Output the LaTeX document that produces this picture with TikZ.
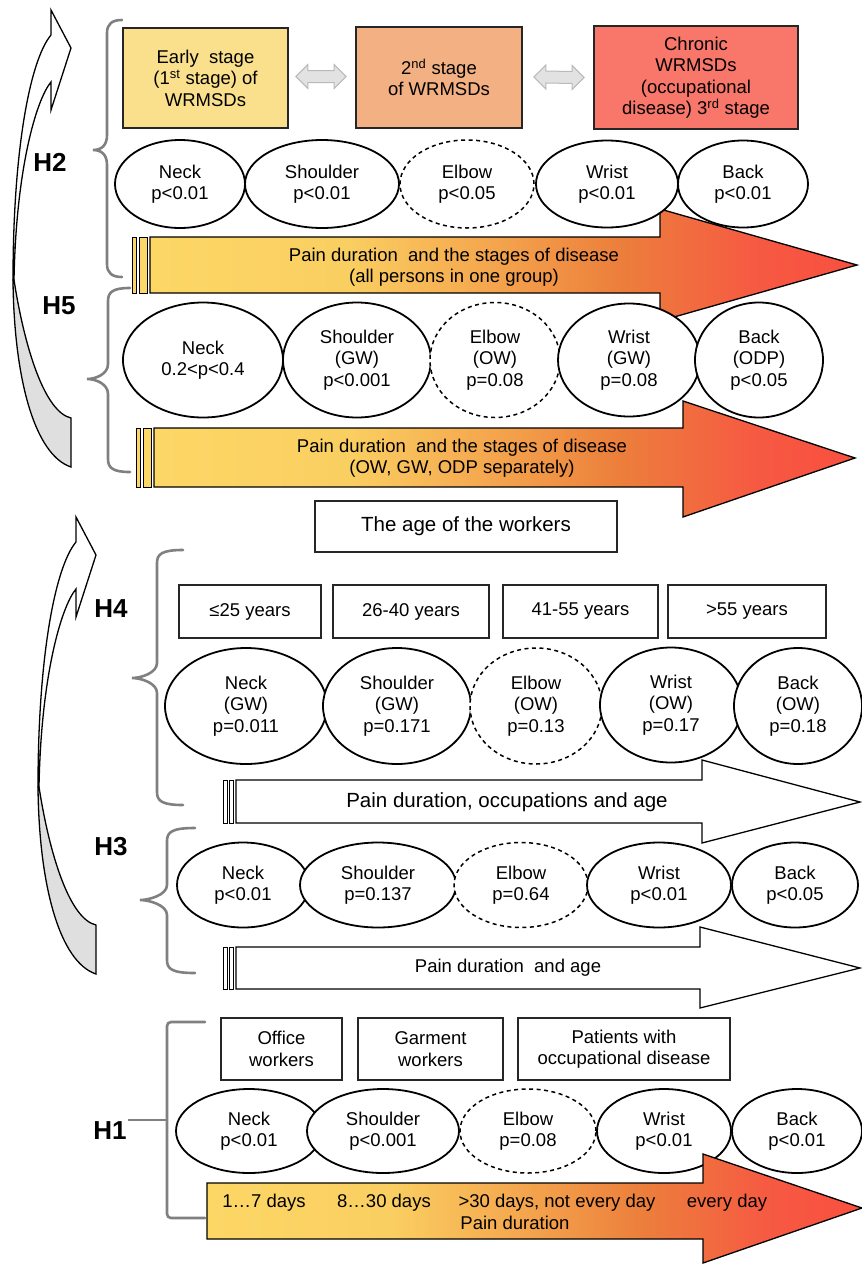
\documentclass[tikz,border=0pt]{standalone}
\usepackage{fontspec}
\setmainfont{Liberation Sans}
\usetikzlibrary{shapes.geometric,calc}

\definecolor{stA}{RGB}{250,224,140}
\definecolor{stB}{RGB}{243,176,131}
\definecolor{stC}{RGB}{248,118,106}
\definecolor{barY}{RGB}{252,214,102}
\definecolor{braceG}{RGB}{128,128,128}
\definecolor{dblG}{RGB}{226,226,226}
\definecolor{dblL}{RGB}{185,185,185}

\pgfdeclarehorizontalshading{warm}{100bp}{rgb(0bp)=(0.988,0.843,0.4); rgb(25bp)=(0.988,0.843,0.4); rgb(39bp)=(0.98,0.81,0.38); rgb(48.5bp)=(0.96,0.66,0.31); rgb(58bp)=(0.925,0.5,0.235); rgb(68bp)=(0.965,0.35,0.26); rgb(75bp)=(0.976,0.31,0.247); rgb(100bp)=(0.976,0.31,0.247)}

\newcommand\mybrace[6]{%
\draw[bracestyle] (#1,#4) .. controls ({#2+5},#4) and (#2,{#4+4}) .. (#2,{#4+13})
 -- (#2,{#5-15}) .. controls (#2,{#5-5}) and ({#3+9},#5) .. (#3,#5)
 .. controls ({#3+9},#5) and (#2,{#5+5}) .. (#2,{#5+15})
 -- (#2,{#6-13}) .. controls (#2,{#6-4}) and ({#2+5},#6) .. (#1,#6);}

\tikzset{
  ell/.style={ellipse, draw=black, line width=1.8pt, fill=white, inner sep=0pt, align=center},
  dell/.style={ell, line width=1.5pt, dash pattern=on 4pt off 3.5pt},
  box/.style={rectangle, draw=black!85, line width=1.8pt, inner sep=0pt, align=center},
  bracestyle/.style={draw=braceG, line width=2.6pt, line cap=round},
  hl/.style={font=\fontsize{26}{26}\selectfont\bfseries},
  barline/.style={draw=black, line width=1.3pt, line join=miter},
  strip/.style={draw=black, line width=0.8pt},
  dbl/.style={draw=dblL, fill=dblG, line width=1pt},
  bartext/.style={align=center, inner sep=0pt},
  bigtext/.style={font=\fontsize{20.5}{23}\selectfont},
  curvy/.pic={
    \draw[line width=1.3pt, fill=white, line join=miter] (0,0) -- (20,38) -- (0,100) -- (0,72)
      .. controls (-15,90) and (-35,160) .. (-37,270) -- (-38,270)
      .. controls (-38,140) and (-21,50) .. (0,25) -- cycle;
    \draw[line width=1.3pt, fill=gray!25] (-38,270) .. controls (-37,370) and (-16,445) .. (20,457)
      -- (20,408) .. controls (-6,402) and (-26,340) .. (-37,270) -- cycle;
  }
}

\begin{document}
\begin{tikzpicture}[x=1pt, y=-1pt, font=\fontsize{18.5}{21.5}\selectfont]
\useasboundingbox (0,0) rectangle (862,1264);

% curved arrows
\pic at (51,10) {curvy};
\pic at (76,517) {curvy};

% braces
\mybrace{122}{107}{93}{20}{150}{277}
\mybrace{130}{108}{87}{288}{379}{472}
\mybrace{183}{157}{132}{550}{678}{805}
\mybrace{195}{167}{140}{828}{900}{973}
\draw[bracestyle, rounded corners=4] (205,1022) -- (167,1022) -- (167,1218) -- (205,1218);

% H labels
\node[hl] (h2) at (50,162) {H2};
\node[hl] (h5) at (59,306) {H5};
\node[hl] (h4) at (111,609) {H4};
\node[hl] (h3) at (111,847) {H3};
\node[hl] (h1) at (110,1131) {H1};
\coordinate (h1b) at (167,1120);
\draw[bracestyle, line cap=butt] ($(h1.east |- h1b)+(-2,0)$) -- (h1b);

% stage boxes
\node[box, fill=stA, minimum width=165, minimum height=100] (st1) at (205.5,78) {Early~ stage\\(1\textsuperscript{st} stage) of\\WRMSDs};
\node[box, fill=stB, minimum width=166, minimum height=101] (st2) at (439,77.5) {2\textsuperscript{nd} stage\\of WRMSDs};
\node[box, fill=stC, minimum width=204, minimum height=103] (st3) at (696,77.5) {Chronic\\WRMSDs\\(occupational\\disease) 3\textsuperscript{rd} stage};

% double arrows between stage boxes
\coordinate (d1a) at ($(st1.east)+(7,-1.5)$);
\coordinate (d1b) at ($(st2.west)+(-9,-1)$);
\draw[dbl] (d1a) -- ++(12,-12) -- ++(0,6) -- ($(d1b)+(-12,-6)$) -- ++(0,-6) -- (d1b) -- ++(-12,12) -- ++(0,-6) -- ($(d1a)+(12,6)$) -- ++(0,6) -- cycle;
\coordinate (d2a) at ($(st2.east)+(11,-0.5)$);
\coordinate (d2b) at ($(st3.west)+(-9,0)$);
\draw[dbl] (d2a) -- ++(12,-12) -- ++(0,6) -- ($(d2b)+(-12,-6)$) -- ++(0,-6) -- (d2b) -- ++(-12,12) -- ++(0,-6) -- ($(d2a)+(12,6)$) -- ++(0,6) -- cycle;

% bar 1
\draw[strip, fill=barY] (132.5,237) rectangle (136.5,293);
\draw[strip, fill=barY] (139.5,237) rectangle (147,293);
\path[barline, shade, shading=warm] (150,237) -- (660,237) -- (660,209) -- (857,265) -- (660,321) -- (660,293) -- (150,293) -- cycle;
\node[bartext] (t1) at (454,267) {Pain duration~ and the stages of disease\\(all persons in one group)};

% bar 2
\draw[strip, fill=barY] (136,428) rectangle (140,487);
\draw[strip, fill=barY] (143,428) rectangle (151,487);
\path[barline, shade, shading=warm] (154,428) -- (683,428) -- (683,401) -- (855,458) -- (683,517) -- (683,487) -- (154,487) -- cycle;
\node[bartext] (t2) at (462,458) {Pain duration~ and the stages of disease\\(OW, GW, ODP separately)};

% bar 3
\draw[strip, fill=white] (223,780) rectangle (227,823);
\draw[strip, fill=white] (229,780) rectangle (233,823);
\path[barline, fill=white] (236,780) -- (702,780) -- (702,760) -- (860,802) -- (702,843) -- (702,823) -- (236,823) -- cycle;
\node[bartext, bigtext] (t3) at (507,802) {Pain duration, occupations and age};

% bar 4
\draw[strip, fill=white] (223,947) rectangle (227,989);
\draw[strip, fill=white] (229,947) rectangle (233,989);
\path[barline, fill=white] (236,947) -- (700,947) -- (700,927) -- (860,968) -- (700,1008) -- (700,989) -- (236,989) -- cycle;
\node[bartext] (t4) at (508,968) {Pain duration~ and age};

% row 1 (H2)
\node[ell, minimum width=130, minimum height=88] (n1) at (180,184) {Neck\\p<0.01};
\node[ell, minimum width=154, minimum height=88] (s1) at (322,184) {Shoulder\\p<0.01};
\node[dell, minimum width=134, minimum height=88] (e1) at (467,184) {Elbow\\p<0.05};
\node[ell, minimum width=142, minimum height=87] (w1) at (607,184) {Wrist\\p<0.01};
\node[ell, minimum width=130, minimum height=87] (b1) at (743,184) {Back\\p<0.01};

% row 2 (H5)
\node[ell, minimum width=160, minimum height=115] (n2) at (203,360) {Neck\\0.2<p<0.4};
\node[ell, minimum width=148, minimum height=115] (s2) at (357,360) {Shoulder\\(GW)\\p<0.001};
\node[dell, minimum width=130, minimum height=115] (e2) at (495,360) {Elbow\\(OW)\\p=0.08};
\node[ell, minimum width=142, minimum height=113] (w2) at (629,360) {Wrist\\(GW)\\p=0.08};
\node[ell, minimum width=128, minimum height=115] (b2) at (759,360) {Back\\(ODP)\\p<0.05};

% age box and age groups
\node[box, bigtext, minimum width=302, minimum height=51] (age) at (466,526.5) {The age of the workers};
\node[box, minimum width=142, minimum height=53] (a1) at (250,611.5) {≤25 years};
\node[box, minimum width=156, minimum height=53] (a2) at (411,611.5) {26-40 years};
\node[box, minimum width=155, minimum height=53] (a3) at (580.5,611.5) {41-55 years};
\node[box, minimum width=158, minimum height=53] (a4) at (747,611.5) {>55 years};

% row 3 (H4)
\node[ell, minimum width=162, minimum height=116] (n3) at (246,706) {Neck\\(GW)\\p=0.011};
\node[ell, minimum width=148, minimum height=116] (s3) at (397,706) {Shoulder\\(GW)\\p=0.171};
\node[dell, minimum width=132, minimum height=116] (e3) at (536,706) {Elbow\\(OW)\\p=0.13};
\node[ell, minimum width=142, minimum height=115] (w3) at (671,705) {Wrist\\(OW)\\p=0.17};
\node[ell, minimum width=128, minimum height=116] (b3) at (798,706) {Back\\(OW)\\p=0.18};

% row 4 (H3)
\node[ell, minimum width=132, minimum height=85] (n4) at (243,885) {Neck\\p<0.01};
\node[ell, minimum width=156, minimum height=85] (s4) at (378,885) {Shoulder\\p=0.137};
\node[dell, minimum width=134, minimum height=85] (e4) at (521,885) {Elbow\\p=0.64};
\node[ell, minimum width=144, minimum height=85] (w4) at (659,885) {Wrist\\p<0.01};
\node[ell, minimum width=126, minimum height=85] (b4) at (795,885) {Back\\p<0.05};

% occupation boxes
\node[box, minimum width=121, minimum height=62] (o1) at (281.5,1049) {Office\\workers};
\node[box, minimum width=145, minimum height=62] (o2) at (430.5,1049) {Garment\\workers};
\node[box, minimum width=212, minimum height=62] (o3) at (624,1049) {Patients with\\occupational disease};

% row 5 (H1)
\node[ell, minimum width=146, minimum height=84] (n5) at (249,1131) {Neck\\p<0.01};
\node[ell, minimum width=152, minimum height=84] (s5) at (383,1131) {Shoulder\\p<0.001};
\node[dell, minimum width=136, minimum height=84] (e5) at (528,1131) {Elbow\\p=0.08};
\node[ell, minimum width=134, minimum height=84] (w5) at (664,1131) {Wrist\\p<0.01};
\node[ell, minimum width=130, minimum height=84] (b5) at (797,1131) {Back\\p<0.01};

% bar 5
\path[barline, shade, shading=warm] (207,1183) -- (703,1183) -- (703,1154) -- (862,1208) -- (703,1263) -- (703,1239) -- (207,1239) -- cycle;
\node[bartext] (p1) at (264,1203) {1…7 days};
\node[bartext] (p2) at (384,1203) {8…30 days};
\node[bartext] (p3) at (557,1203) {>30 days, not every day};
\node[bartext] (p4) at (727,1203) {every day};
\node[bartext] (p5) at (515,1223) {Pain duration};
\end{tikzpicture}
\end{document}
